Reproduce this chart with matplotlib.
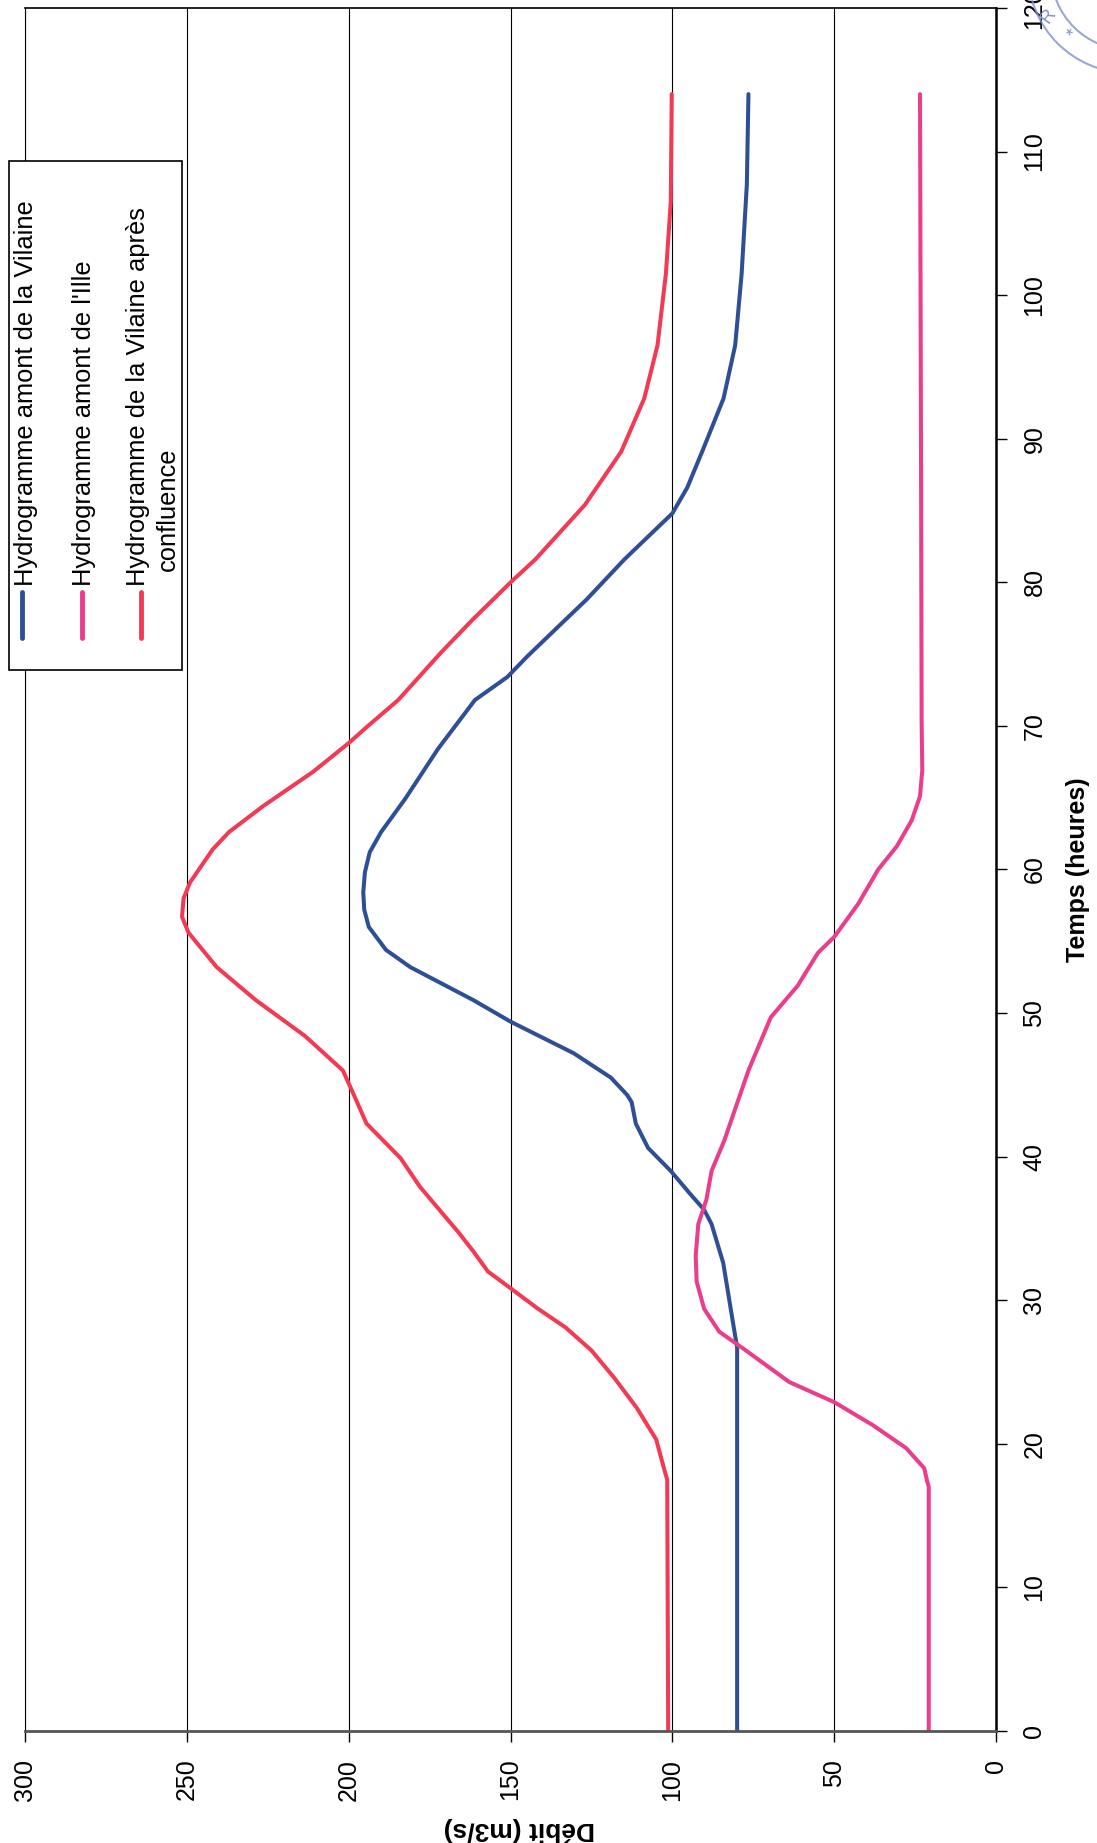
import matplotlib.pyplot as plt
from matplotlib.patches import Rectangle, Ellipse
from matplotlib.lines import Line2D

plt.rcParams['font.family'] = ['Liberation Sans', 'DejaVu Sans']

# hydrogramme amont de la Vilaine
vil_t = [0, 26.7, 28.6, 32.6, 35.3, 36.3, 37.4, 39.0, 40.6, 42.3, 43.8, 44.3,
         45.5, 47.2, 49.4, 50.9, 53.2, 54.4, 56.0, 57.2, 58.4, 59.8, 61.2,
         62.6, 64.9, 68.4, 71.8, 73.4, 74.8, 77.4, 78.8, 81.6, 84.8, 86.6,
         89.1, 92.8, 96.5, 101.5, 107.7, 114]
vil_q = [80, 80, 81.4, 84.3, 87.9, 90.2, 94.5, 100.5, 107.5, 111.3, 112.6, 114,
         119, 130.5, 150, 161.5, 181, 188.5, 193.8, 195.2, 195.5, 195, 193.5,
         190, 182.6, 172.4, 161, 151, 145, 133, 126.5, 114.8, 100, 95.4,
         90.8, 84.2, 80.6, 78.6, 77, 76.5]

# hydrogramme amont de l'Ille
ille_t = [0, 17.0, 17.4, 18.3, 19.7, 21.3, 22.9, 24.3, 26.5, 27.8, 29.4, 31.3,
          33.1, 35.3, 37.0, 39.0, 41.1, 46.0, 49.7, 51.9, 54.2, 55.3, 57.6,
          60.0, 61.6, 63.4, 65.1, 66.9, 70.3, 90, 114]
ille_q = [20.8, 20.8, 21.3, 22.2, 27.8, 38.1, 50, 63.9, 77.3, 85.5, 90.2, 92.5,
          92.8, 92, 89.5, 87.9, 84, 76.5, 69.6, 61.3, 55, 50, 42.6,
          36.4, 30.7, 26.1, 23.5, 22.8, 23, 23.2, 23.5]

# hydrogramme de la Vilaine apres confluence
conf_t = [0, 17.5, 18.2, 20.3, 22.5, 24.6, 26.5, 28.1, 29.4, 31.0, 32.0, 33.4,
          34.7, 36.3, 37.9, 39.9, 42.3, 44.5, 46.0, 48.4, 50.9, 53.2, 55.6,
          56.7, 58.0, 59.1, 61.4, 62.6, 64.4, 66.8, 68.8, 70.0, 71.8, 75.1,
          77.4, 80.1, 81.6, 85.4, 89.1, 92.8, 96.5, 101.5, 106.5, 114]
conf_q = [101.3, 101.6, 102.5, 105, 111, 118, 125, 133, 141.5, 151, 157, 161.5,
          166, 172, 178, 184, 194.5, 198.8, 201.8, 213.5, 228.7, 240.8, 249.5,
          251.5, 251, 249, 242, 237, 226.5, 211, 200, 194, 184.7, 171.5,
          161.7, 149.5, 142.3, 127, 115.8, 108.7, 104.6, 102, 100.5, 100.2]

labels = ["Hydrogramme amont de la Vilaine",
          "Hydrogramme amont de l'Ille",
          "Hydrogramme de la Vilaine après"]
colors = ['#2e4f96', '#ea3d8c', '#f23a55']

fig = plt.figure(figsize=(10.97, 18.43), dpi=100)
ax = fig.add_axes([0.0228, 0.0608, 0.8852, 0.9349])

# page is turned a quarter: time runs upward, discharge runs leftward
ax.plot(vil_q, vil_t, color=colors[0], lw=2.9, solid_capstyle='round')
ax.plot(ille_q, ille_t, color=colors[1], lw=2.9, solid_capstyle='round')
ax.plot(conf_q, conf_t, color=colors[2], lw=2.9, solid_capstyle='round')

ax.set_xlim(300, 0)
ax.set_ylim(0, 120)
ax.set_xticks(range(0, 301, 50))
ax.set_yticks(range(0, 121, 10))
ax.yaxis.tick_right()
ax.yaxis.set_label_position('right')
ax.grid(axis='x', color='black', lw=0.8)

ax.tick_params(axis='x', direction='out', length=8, width=1, pad=12,
               labelsize=18, labelrotation=90)
ax.tick_params(axis='y', direction='out', length=8, width=1, pad=11,
               labelsize=18, labelrotation=90)
for lbl in ax.get_yticklabels():
    lbl.set_va('center')

ax.spines['bottom'].set_color('#555555')
ax.spines['bottom'].set_linewidth(2)
ax.spines['right'].set_linewidth(1.8)
ax.spines['top'].set_linewidth(1.2)
ax.spines['left'].set_linewidth(0.8)

ax.set_xlabel('Débit (m3/s)', fontsize=19, fontweight='bold', rotation=180)
ax.xaxis.set_label_coords(0.509, -0.0569)
ax.xaxis.label.set_va('center')
ax.set_ylabel('Temps (heures)', fontsize=18, fontweight='bold', rotation=90)
ax.yaxis.set_label_coords(1.0844, 0.5)
ax.yaxis.label.set_va('center')
ax.yaxis.label.set_ha('center')

# legend box, drawn by hand because it is turned too
fig.add_artist(Rectangle((0.0082, 0.6365), 0.1577, 0.2761,
                         transform=fig.transFigure, facecolor='white',
                         edgecolor='black', lw=1.2, zorder=5))
sx = [0.0204, 0.0747, 0.1285]
tx = [0.0240, 0.0770, 0.1262]
for i in range(3):
    fig.add_artist(Line2D([sx[i], sx[i]], [0.6540, 0.6790],
                          transform=fig.transFigure, color=colors[i],
                          lw=3.5, solid_capstyle='round', zorder=6))
    fig.text(tx[i], 0.6822, labels[i], rotation=90, ha='center',
             va='bottom', fontsize=18.4, zorder=6)
fig.text(0.1530, 0.6900, 'confluence', rotation=90, ha='center',
         va='bottom', fontsize=18.4, zorder=6)

# stamp in the corner of the scan
for w in (202, 156):
    fig.add_artist(Ellipse((1.0292, 1.0152), w / 1097, w / 1843,
                           transform=fig.transFigure, fill=False,
                           edgecolor='#8090d0', lw=1.5, alpha=0.8))
fig.text(0.956, 0.991, 'R', rotation=55, color='#8090d0', fontsize=13,
         ha='center', va='center')
fig.text(0.978, 0.981, '*', rotation=40, color='#8090d0', fontsize=13,
         ha='center', va='center')

fig.savefig('out.png', dpi=100)
